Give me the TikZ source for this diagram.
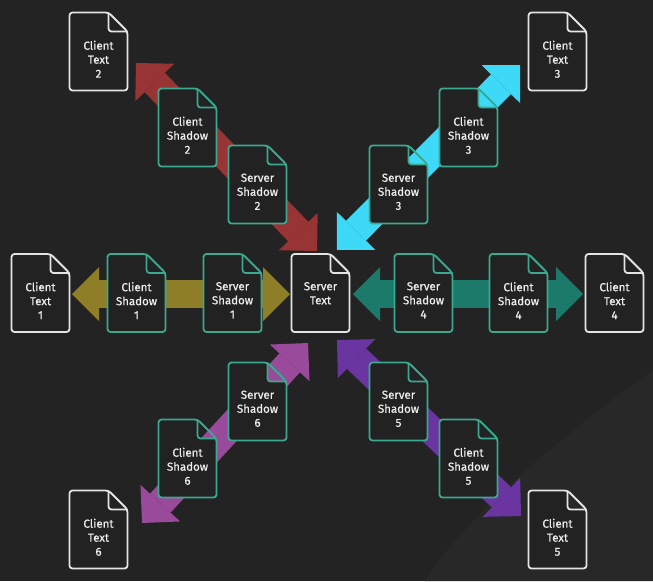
\documentclass[tikz,border=0pt]{standalone}
\usepackage{fontspec}
\setmainfont{Fira Sans}[FakeBold=0.7]
\usetikzlibrary{arrows.meta,calc}
\definecolor{bgc}{HTML}{232323}
\definecolor{bglight}{HTML}{282828}
\definecolor{docbg}{HTML}{222222}
\definecolor{whitec}{HTML}{E4E4E4}
\definecolor{tealc}{HTML}{3AA98F}
\definecolor{txtc}{HTML}{EEEEEE}
\definecolor{redc}{HTML}{983434}
\definecolor{cyanc}{HTML}{3FD9F8}
\definecolor{olivec}{HTML}{8E7E27}
\definecolor{greenc}{HTML}{1B7A6A}
\definecolor{magc}{HTML}{9A4A9B}
\definecolor{violc}{HTML}{6A35A0}
\tikzset{
  docbox/.style={minimum width=58pt, minimum height=78pt, inner sep=0pt, outer sep=0pt, rectangle},
  docfill/.style={fill=docbg},
  whiteline/.style={draw=whitec, line width=1.8pt, line join=round},
  tealline/.style={draw=tealc, line width=1.8pt, line join=round},
  doctext/.style={anchor=north, inner sep=0pt, text=txtc, align=center, font=\fontsize{11.5}{14}\selectfont},
  bigarrow/.style={line width=28pt, {Triangle[length=27pt,width=54pt,line width=0pt]}-{Triangle[length=27pt,width=54pt,line width=0pt]}}
}
\newcommand\docnode[4]{%
  \node[docbox] (#1) at (#2) {};
  \fill[docfill, rounded corners=3pt] (#1.west) -- (#1.north west) -- ([xshift=-19pt]#1.north east)
     -- ([xshift=-19pt,yshift=-19pt]#1.north east) -- ([yshift=-19pt]#1.north east)
     -- (#1.south east) -- (#1.south west) -- cycle;
  \draw[#3, rounded corners=3pt] (#1.west) -- (#1.north west) -- ([xshift=-19pt]#1.north east)
     -- ([yshift=-19pt]#1.north east) -- (#1.south east) -- (#1.south west) -- cycle;
  \draw[#3, rounded corners=3pt] ([xshift=-19pt]#1.north east) -- ([xshift=-19pt,yshift=-19pt]#1.north east) -- ([yshift=-19pt]#1.north east);
  \node[doctext] (#1-t) at ([yshift=-28pt]#1.north) {#4};
}
\begin{document}
\begin{tikzpicture}[x=1pt,y=-1pt]
\fill[bgc] (0,0) rectangle (653,581);
\useasboundingbox (0,0) rectangle (653,581);
\fill[bglight] (653,370) .. controls (570,430) and (470,510) .. (425,581) -- (653,581) -- cycle;

% arrow end points
\coordinate (o1) at (72,294);   \coordinate (o2) at (290,294);
\coordinate (g1) at (353,294);  \coordinate (g2) at (583,294);
\coordinate (r1) at (136,63);   \coordinate (r2) at (317,251);
\coordinate (c1) at (520,65);   \coordinate (c2) at (337,250);
\coordinate (m1) at (308,343);  \coordinate (m2) at (142,523);
\coordinate (v1) at (337,340);  \coordinate (v2) at (521,516);

\draw[bigarrow, olivec] (o1) -- (o2);
\draw[bigarrow, greenc] (g1) -- (g2);
\draw[bigarrow, redc] (r1) -- (r2);
\draw[bigarrow, cyanc] (c1) -- (c2);
\draw[bigarrow, magc] (m1) -- (m2);
\draw[bigarrow, violc] (v1) -- (v2);

\docnode{st}{320.5,293}{whiteline}{Server\\Text}

\docnode{ct1}{40.5,293}{whiteline}{Client\\Text\\1}
\docnode{cs1}{136.5,293}{tealline}{Client\\Shadow\\1}
\docnode{ss1}{232.5,293}{tealline}{Server\\Shadow\\1}

\docnode{ct2}{98.5,51.5}{whiteline}{Client\\Text\\2}
\docnode{cs2}{187.5,127.5}{tealline}{Client\\Shadow\\2}
\docnode{ss2}{257.5,184.5}{tealline}{Server\\Shadow\\2}

\docnode{ct3}{557.5,51.5}{whiteline}{Client\\Text\\3}
\docnode{cs3}{468.5,127.5}{tealline}{Client\\Shadow\\3}
\docnode{ss3}{398.5,184.5}{tealline}{Server\\Shadow\\3}

\docnode{ss4}{423.5,293}{tealline}{Server\\Shadow\\4}
\docnode{cs4}{518.5,293}{tealline}{Client\\Shadow\\4}
\docnode{ct4}{614.5,293}{whiteline}{Client\\Text\\4}

\docnode{ss5}{398.5,401.5}{tealline}{Server\\Shadow\\5}
\docnode{cs5}{468.5,458.5}{tealline}{Client\\Shadow\\5}
\docnode{ct5}{557.5,529.5}{whiteline}{Client\\Text\\5}

\docnode{ss6}{257.5,401.5}{tealline}{Server\\Shadow\\6}
\docnode{cs6}{187.5,458.5}{tealline}{Client\\Shadow\\6}
\docnode{ct6}{98.5,529.5}{whiteline}{Client\\Text\\6}
\end{tikzpicture}
\end{document}
